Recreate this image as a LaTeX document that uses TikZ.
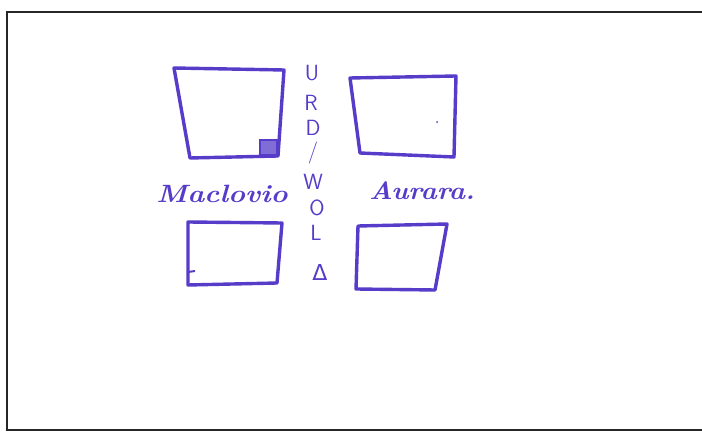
\documentclass[tikz,border=0pt]{standalone}
\usepackage{fontspec}
\newfontfamily\handfont{DejaVu Sans}
\definecolor{ink}{RGB}{86,60,200}
\begin{document}
\begin{tikzpicture}[x=1pt,y=-1pt,
  frameline/.style={draw=black!85,line width=2.2pt},
  inkbox/.style={draw=ink,line width=3.4pt,line join=round,line cap=round},
  vletter/.style={text=ink,font=\fontsize{22}{22}\selectfont\sffamily,inner sep=0pt},
  nametext/.style={text=ink,font=\fontsize{25}{25}\selectfont\itshape\bfseries,inner sep=0pt}]
\fill[white] (0,0) rectangle (702,435);
\useasboundingbox (0,0) rectangle (702,435);
% frame: three separate strokes, open on the right
\coordinate (ftl) at (7,12);
\coordinate (fbl) at (7,430);
\coordinate (ftr) at (702,12);
\coordinate (fbr) at (702,430);
\draw[frameline,line cap=rect] (ftl) -- (ftr);
\draw[frameline,line cap=rect] (ftl) -- (fbl);
\draw[frameline,line cap=rect] (fbl) -- (fbr);
% top-left box
\draw[inkbox] (174,68) -- (284,70) -- (278,156) -- (190,158) -- cycle;
\draw[ink,line width=2pt,fill=ink!75] (260,140) rectangle (277,155);
% top-right box
\draw[inkbox] (350,78) -- (456,76) -- (454,157) -- (360,153) -- cycle;
% bottom-left box
\draw[inkbox] (188,222) -- (282,223) -- (277,283) -- (188,285) -- cycle;
\draw[ink,line width=2pt] (188,272) -- (195,271);
% bottom-right box
\draw[inkbox] (358,226) -- (447,224) -- (435,290) -- (356,289) -- cycle;
% vertical letters
\node[vletter] (u) at (312,73) {U};
\node[vletter] (r) at (311,103) {R};
\node[vletter] (d) at (313,128) {D};
\node[vletter] (i) at (313,153) {/};
\node[vletter] (w) at (313,182) {W};
\node[vletter] (o) at (317,208) {O};
\node[vletter] (l) at (316,233) {L};
\node[vletter] (delta) at (320,272) {{\handfont Δ}};
% names
\node[nametext,xscale=1.15] (mac) at (222,194) {Maclovio};
\node[nametext,xscale=1.1] (aur) at (422,191) {Aurara.};
\fill[ink] (437,122) circle (1);
\end{tikzpicture}
\end{document}
